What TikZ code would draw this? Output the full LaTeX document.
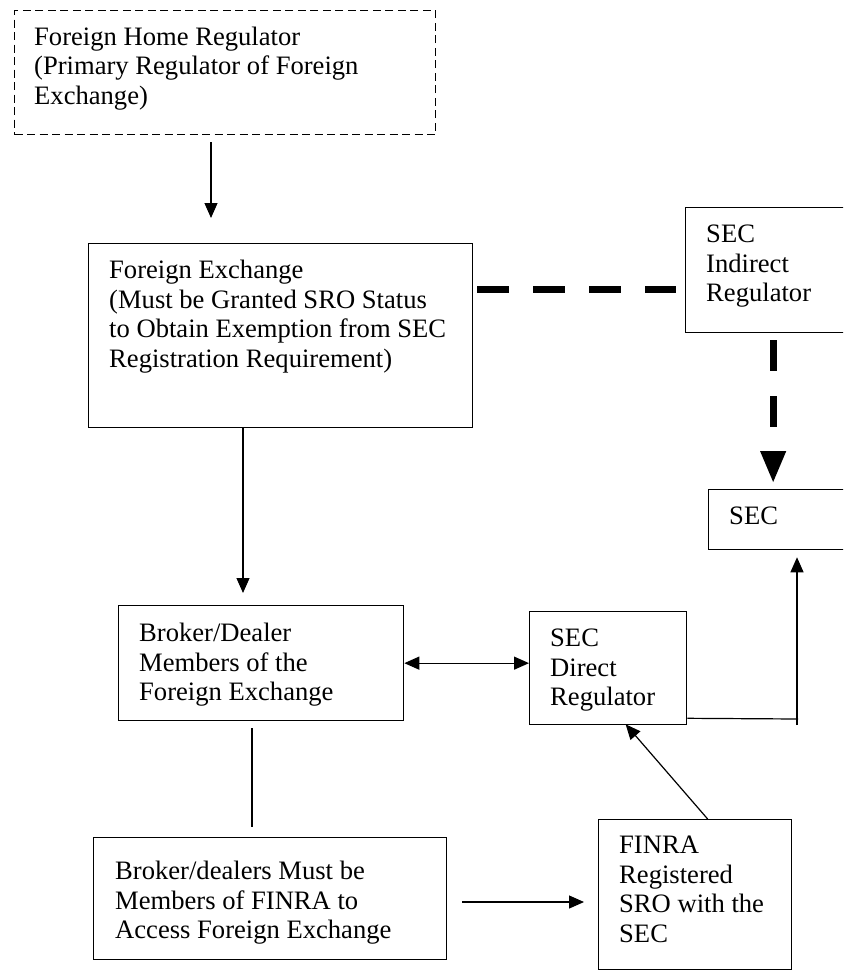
\documentclass[tikz,border=0pt]{standalone}
\usepackage{fontspec}
\setmainfont{Liberation Serif}
\usetikzlibrary{arrows.meta}
\newcommand{\firststrut}{\rule{0pt}{20pt}}
\begin{document}
\begin{tikzpicture}[x=1pt,y=-1pt,
  box/.style={draw, line width=1.3pt, inner sep=0pt, anchor=north west},
  txt/.style={anchor=north west, inner sep=0pt, align=left,
    font=\fontsize{26.6}{29.8}\selectfont},
  conn/.style={line width=1.2pt},
  arr/.style={line width=1.2pt, -{Triangle[width=13pt,length=15pt]}},
  darr/.style={line width=1.2pt, {Triangle[width=13pt,length=15pt]}-{Triangle[width=13pt,length=15pt]}},
  thickdash/.style={line width=7pt, dash pattern=on 32pt off 24pt},
  thickarr/.style={line width=7pt, dash pattern=on 31pt off 25pt, -{Triangle[width=24pt,length=32pt]}}
]
\fill[white] (0,0) rectangle (843,971);
\useasboundingbox (0,0) rectangle (843,971);
\clip (0,0) rectangle (843,971);

% boxes
\node[box, dashed, dash pattern=on 8pt off 4.5pt, minimum width=421pt, minimum height=124pt] (home) at (14,10) {};
\node[txt] (homet) at (34,25) {\firststrut Foreign Home Regulator\\(Primary Regulator of Foreign\\Exchange)};

\node[box, minimum width=384pt, minimum height=184pt] (fe) at (88,243) {};
\node[txt] (fet) at (109,258) {\firststrut Foreign Exchange\\(Must be Granted SRO Status\\to Obtain Exemption from SEC\\Registration Requirement)};

\node[box, minimum width=175pt, minimum height=125pt] (secind) at (685,207) {};
\node[txt] (secindt) at (706,222) {\firststrut SEC\\Indirect\\Regulator};

\node[box, minimum width=152pt, minimum height=60pt] (sec) at (708,489) {};
\node[txt] (sect) at (729,504) {\firststrut SEC};

\node[box, minimum width=285pt, minimum height=115pt] (bd) at (118,605) {};
\node[txt] (bdt) at (139,621) {\firststrut Broker/Dealer\\Members of the\\Foreign Exchange};

\node[box, minimum width=157pt, minimum height=113pt] (secd) at (529,611) {};
\node[txt] (secdt) at (550,626) {\firststrut SEC\\Direct\\Regulator};

\node[box, minimum width=353pt, minimum height=122pt] (bot) at (93,837) {};
\node[txt] (bott) at (115,859) {\firststrut Broker/dealers Must be\\Members of FINRA to\\Access Foreign Exchange};

\node[box, minimum width=193pt, minimum height=150pt] (finra) at (598,819) {};
\node[txt] (finrat) at (619,833) {\firststrut FINRA\\Registered\\SRO with the\\SEC};

% helper coordinates
\coordinate (v1) at (211,0);
\coordinate (v2) at (243,0);
\coordinate (v3) at (252,0);
\coordinate (h4) at (0,902);
\coordinate (dh) at (0,289);
\coordinate (c1) at (798,719);
\coordinate (c2) at (797,725);

% connectors
\draw[arr, shorten <=7pt, shorten >=25pt] (home.south -| v1) -- (fe.north -| v1);
\draw[arr, shorten >=12pt] (fe.south -| v2) -- (bd.north -| v2);
\draw[conn, shorten <=7pt, shorten >=10pt] (bd.south -| v3) -- (bot.north -| v3);
\draw[arr, shorten <=15pt, shorten >=14pt] (bot.east |- h4) -- (finra.west |- h4);
\draw[arr] ([xshift=12.5pt]finra.north) -- ([xshift=17.5pt,yshift=1pt]secd.south);
\draw[darr] (bd.east) -- (bd.east -| secd.west);
\draw[conn] ([yshift=7pt]secd.south east) -- (c1);
\draw[arr, shorten >=7pt] (c2) -- (c2 |- sec.south);
\draw[thickdash, shorten <=4pt, shorten >=9pt] (fe.east |- dh) -- (secind.west |- dh);
\draw[thickarr, shorten <=7pt, shorten >=6pt] (secind.south) -- (secind.south |- sec.north);
\end{tikzpicture}
\end{document}
